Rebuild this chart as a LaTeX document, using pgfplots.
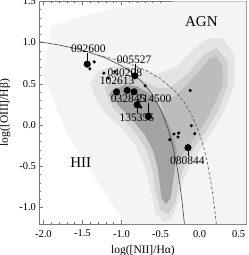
\documentclass[border=0pt]{standalone}
\usepackage{pgfplots}
\pgfplotsset{compat=1.18}
\usepackage{fontspec}
\setmainfont{Liberation Serif}
\definecolor{core}{RGB}{163,163,163}
\definecolor{wing}{RGB}{188,188,188}
\definecolor{mid}{RGB}{208,208,208}
\definecolor{halo}{RGB}{228,228,228}
\definecolor{bgd}{RGB}{244,244,244}
\definecolor{frm}{RGB}{120,120,120}
\begin{document}
\begin{tikzpicture}
\begin{axis}[name=ax, scale only axis, width=207.2pt, height=223pt,
  xmin=-2.05, xmax=0.6, ymin=-1.2, ymax=1.5,
  xtick={-2,-1.5,-1,-0.5,0,0.5}, ytick={-1,-0.5,0,0.5,1,1.5},
  minor x tick num=4, minor y tick num=4,
  tick align=inside, major tick length=4pt, minor tick length=2pt,
  axis line style={frm, line width=0.5pt}, every tick/.style={frm, line width=0.4pt},
  /pgf/number format/assume math mode=true,
  /pgf/number format/.cd, fixed, fixed zerofill, precision=1, /pgfplots/.cd,
  tick label style={font=\fontsize{10.5}{11}\selectfont},
  xticklabel style={yshift=-2.5pt},
  label style={font=\fontsize{11.5}{12}\selectfont},
  xlabel={log([NII]/Hα)}, ylabel={log([OIII]/Hβ)},
  xlabel style={yshift=-1pt}, ylabel style={yshift=2pt},
  clip=true]
% background density (approximate shape of the galaxy cloud)
\addplot[draw=none, fill=bgd] coordinates {(-1.9,1.2) (-1.2,1.4) (-0.3,1.5) (0.6,1.5) (0.6,-1.2) (-0.95,-1.2) (-1.3,-0.7) (-1.7,-0.1) (-2.0,0.6)} -- cycle;
\addplot[draw=none, fill=halo] coordinates {(-1.4,0.5) (-1.3,0.65) (-1.1,0.72) (-0.8,0.7) (-0.55,0.62) (-0.3,0.7) (-0.1,0.9) (0.1,1.05) (0.3,1.05) (0.45,0.85) (0.45,0.5) (0.33,0.2) (0.18,-0.05) (0.02,-0.28) (-0.12,-0.48) (-0.22,-0.7) (-0.28,-0.95) (-0.35,-1.12) (-0.45,-1.18) (-0.56,-1.08) (-0.62,-0.8) (-0.7,-0.5) (-0.82,-0.25) (-0.98,-0.05) (-1.18,0.12) (-1.32,0.3)} -- cycle;
\addplot[draw=none, fill=mid] coordinates {(-1.22,0.46) (-1.0,0.58) (-0.75,0.55) (-0.55,0.45) (-0.38,0.45) (-0.15,0.62) (0.05,0.85) (0.22,0.93) (0.36,0.78) (0.36,0.48) (0.25,0.2) (0.1,-0.05) (-0.05,-0.25) (-0.18,-0.45) (-0.26,-0.7) (-0.31,-0.95) (-0.4,-1.08) (-0.5,-1.03) (-0.56,-0.82) (-0.6,-0.55) (-0.68,-0.3) (-0.8,-0.12) (-0.95,0.05) (-1.12,0.22)} -- cycle;
\addplot[draw=none, fill=wing] coordinates {(-0.5,0.28) (-0.3,0.36) (-0.15,0.5) (0.0,0.66) (0.12,0.8) (0.22,0.83) (0.3,0.7) (0.29,0.46) (0.19,0.25) (0.06,0.02) (-0.07,-0.16) (-0.19,-0.33) (-0.29,-0.46) (-0.36,-0.2) (-0.44,0.05)} -- cycle;
\addplot[draw=none, fill=core] coordinates {(-1.12,0.42) (-0.96,0.49) (-0.8,0.47) (-0.65,0.39) (-0.52,0.23) (-0.42,0.06) (-0.34,-0.12) (-0.29,-0.3) (-0.31,-0.5) (-0.34,-0.7) (-0.37,-0.88) (-0.43,-0.96) (-0.49,-0.88) (-0.51,-0.7) (-0.54,-0.5) (-0.6,-0.3) (-0.7,-0.12) (-0.82,0.02) (-0.95,0.15) (-1.08,0.28) (-1.16,0.36)} -- cycle;
% Kauffmann (solid) and Kewley (dashed) lines
\addplot[black!75, line width=0.6pt] coordinates {(-2.05,1.0095) (-1.8,0.970) (-1.6,0.930) (-1.4,0.879) (-1.2,0.812) (-1.0,0.719) (-0.9,0.658) (-0.8,0.582) (-0.7,0.487) (-0.6,0.362) (-0.5,0.191) (-0.45,0.080) (-0.4,-0.056) (-0.35,-0.225) (-0.3,-0.443) (-0.25,-0.733) (-0.22,-0.959) (-0.2,-1.14) (-0.194,-1.2)};
\addplot[black!65, line width=0.6pt, dash pattern=on 3pt off 2pt] coordinates {(-1.3,0.845) (-1.1,0.801) (-0.9,0.745) (-0.7,0.669) (-0.5,0.561) (-0.3,0.398) (-0.2,0.280) (-0.1,0.120) (0.0,-0.108) (0.05,-0.262) (0.1,-0.459) (0.15,-0.716) (0.18,-0.913) (0.2,-1.069) (0.215,-1.202)};
% connector lines
\addplot[black, line width=0.6pt] coordinates {(-1.438,0.738) (-1.438,0.87)};
\addplot[black, line width=0.6pt] coordinates {(-0.829,0.596) (-0.829,0.74)};
\addplot[black, line width=0.6pt] coordinates {(-0.654,0.104) (-0.654,0.27)};
\addplot[black, line width=0.6pt] coordinates {(-0.80,0.245) (-0.80,0.14)};
\addplot[black, line width=0.6pt] coordinates {(-0.148,-0.274) (-0.148,-0.38)};
% small dots
\addplot[only marks, mark=*, mark size=1.4pt, black] coordinates {(-1.349,0.765) (-1.404,0.681) (-1.225,0.629) (-1.17,0.568) (-1.084,0.648) (-0.697,0.475) (-0.12,0.419) (-0.105,-0.008) (-0.063,-0.105) (-0.327,-0.109) (-0.267,-0.097) (-0.276,-0.145) (-0.382,-0.178) (-0.752,0.217)};
% big circles
\addplot[only marks, mark=*, mark size=3.3pt, black] coordinates {(-1.438,0.738) (-0.829,0.596) (-1.063,0.403) (-0.927,0.419) (-0.838,0.403) (-0.80,0.245) (-0.654,0.104) (-0.148,-0.274)};
% labels
\begin{scope}[every node/.style={font=\fontsize{11.5}{12}\selectfont, inner sep=0pt}]
\node at (axis cs:-1.425,0.919) {092600};
\node at (axis cs:-0.838,0.790) {005527};
\node at (axis cs:-0.957,0.629) {040208};
\node at (axis cs:-1.055,0.536) {102613};
\node at (axis cs:-0.914,0.314) {032845};
\node at (axis cs:-0.582,0.314) {214500};
\node at (axis cs:-0.803,0.094) {135355};
\node at (axis cs:-0.156,-0.435) {080844};
\end{scope}
\node[font=\fontsize{15}{16}\selectfont, inner sep=0pt] at (axis cs:0.023,1.253) {AGN};
\node[font=\fontsize{15}{16}\selectfont, inner sep=0pt] at (axis cs:-1.522,-0.46) {HII};
\end{axis}
\pgfresetboundingbox
\path[use as bounding box] ([xshift=-39.5pt,yshift=-31pt]ax.south west) rectangle ([xshift=2.3pt,yshift=1.3pt]ax.north east);
\end{tikzpicture}
\end{document}
